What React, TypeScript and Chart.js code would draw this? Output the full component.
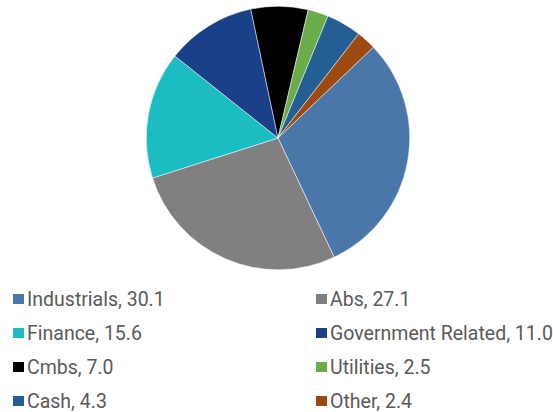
import React, { useEffect, useRef } from "react";
import { Chart, registerables } from "chart.js";

Chart.register(...registerables);

const categories = ["Industrials", "Abs", "Finance", "Government Related", "Cmbs", "Utilities", "Cash", "Other"];
const values = [30.1, 27.1, 15.6, 11.0, 7.0, 2.5, 4.3, 2.4];
const colors = ["#4A76A8", "#808080", "#1BBCC2", "#1A4088", "#000000", "#6AAB4A", "#245E92", "#9C4A10"];

export default function App() {
  const canvasRef = useRef<HTMLCanvasElement | null>(null);

  useEffect(() => {
    if (!canvasRef.current) return;
    const chart = new Chart(canvasRef.current, {
      type: "pie",
      data: {
        labels: categories,
        datasets: [
          {
            data: values,
            backgroundColor: colors,
            borderColor: "#ffffff",
            borderWidth: 0.5,
          },
        ],
      },
      options: {
        animation: false,
        responsive: true,
        maintainAspectRatio: false,
        rotation: 46.4,
        layout: { padding: 0 },
        plugins: {
          legend: { display: false },
          tooltip: { enabled: false },
        },
      },
    });
    return () => chart.destroy();
  }, []);

  return (
    <div style={{ position: "absolute", left: 0, top: 0, width: 553, height: 412, background: "#fff", overflow: "hidden" }}>
      <div style={{ position: "absolute", left: 146, top: 6, width: 264, height: 264 }}>
        <canvas ref={canvasRef} />
      </div>
      <div
        style={{
          position: "absolute",
          left: 13,
          top: 282,
          display: "grid",
          gridTemplateColumns: "303px 240px",
          gridAutoRows: "34px",
          fontFamily: "Roboto, sans-serif",
          fontSize: "19.5px",
          color: "#5a5a5a",
        }}
      >
        {categories.map((c, i) => (
          <div key={c} style={{ display: "flex", alignItems: "center", whiteSpace: "nowrap" }}>
            <span style={{ display: "inline-block", width: 11, height: 10, background: colors[i], marginRight: 3 }} />
            <span>{`${c}, ${values[i].toFixed(1)}`}</span>
          </div>
        ))}
      </div>
    </div>
  );
}
